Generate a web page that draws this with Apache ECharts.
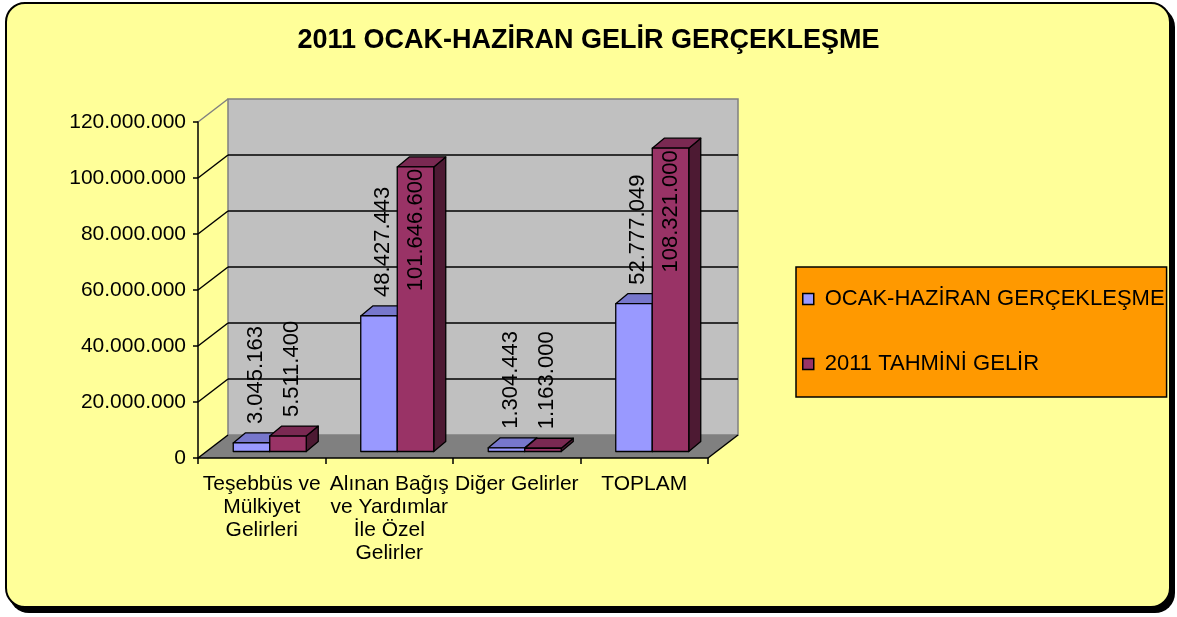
<!DOCTYPE html>
<html>
<head>
<meta charset="utf-8">
<script src="https://cdn.jsdelivr.net/npm/echarts@6/dist/echarts.min.js"></script>
<style>
  html, body { margin: 0; padding: 0; background: #fff; }
  .frame {
    position: absolute; left: 5px; top: 2px; width: 1162px; height: 602px;
    border: 2px solid #000; border-radius: 20px; background: #ffff99;
    box-shadow: 4px 5px 0 #000;
  }
  .gelir-chart { position: absolute; left: 0; top: 0; width: 1177px; height: 617px; }
</style>
</head>
<body>
<div class="frame"></div>
<div class="gelir-chart"></div>
<script>
// * 3D görünümlü sütun grafiği (Excel tarzı)
const chart = echarts.init(document.querySelector('.gelir-chart'))

// ? veriler
const categories = ['Teşebbüs ve\nMülkiyet\nGelirleri', 'Alınan Bağış\nve Yardımlar\nİle Özel\nGelirler', 'Diğer Gelirler', 'TOPLAM']
const seriesNames = ['OCAK-HAZİRAN GERÇEKLEŞME', '2011 TAHMİNİ GELİR']
const gerceklesme = [3045163, 48427443, 1304443, 52777049]
const tahmini = [5511400, 101646600, 1163000, 108321000]
const yTicks = [0, 20000000, 40000000, 60000000, 80000000, 100000000, 120000000]

// derinlik ayarları (piksel)
const WALL_DX = 30, WALL_DY = -23
const BAR_SHIFT_X = 8, BAR_SHIFT_Y = -6.5
const BAR_DX = 12, BAR_DY = -10
const BAR_W = 36.5

const fmt = n => String(n).replace(/\B(?=(\d{3})+(?!\d))/g, '.')

const measureCtx = document.createElement('canvas').getContext('2d')
measureCtx.font = '22px "Liberation Sans", Arial'

// arka duvar, taban ve ızgara çizgileri
function renderWalls(params, api) {
  const cs = params.coordSys
  const left = cs.x, right = cs.x + cs.width
  const y0 = api.coord([0, 0])[1]
  const yMax = api.coord([0, yTicks[yTicks.length - 1]])[1]
  const children = []
  children.push({
    type: 'polygon',
    shape: { points: [[left, y0], [right, y0], [right + WALL_DX, y0 + WALL_DY], [left + WALL_DX, y0 + WALL_DY]] },
    style: { fill: '#808080' }
  })
  children.push({
    type: 'rect',
    shape: { x: left + WALL_DX, y: yMax + WALL_DY, width: cs.width, height: y0 - yMax },
    style: { fill: '#c0c0c0', stroke: '#808080', lineWidth: 1.5 }
  })
  yTicks.forEach((v, k) => {
    const y = api.coord([0, v])[1]
    const isTop = k === yTicks.length - 1
    if (v > 0 && !isTop) {
      children.push({
        type: 'line',
        shape: { x1: left + WALL_DX, y1: y + WALL_DY, x2: right + WALL_DX, y2: y + WALL_DY },
        style: { stroke: '#000', lineWidth: 1.5 }
      })
    }
    children.push({
      type: 'line',
      shape: { x1: left, y1: y, x2: left + WALL_DX, y2: y + WALL_DY },
      style: { stroke: isTop ? '#808080' : '#000', lineWidth: 1.5 }
    })
  })
  // sağ taban kenarı
  children.push({
    type: 'line',
    shape: { x1: right, y1: y0, x2: right + WALL_DX, y2: y0 + WALL_DY },
    style: { stroke: '#000', lineWidth: 1.5 }
  })
  return { type: 'group', children }
}

function barRenderer(seriesIdx, front, top, side) {
  return function (params, api) {
    const i = api.value(0), v = api.value(1)
    const pt = api.coord([i, v])
    const cx = pt[0]
    const yTop = pt[1] + BAR_SHIFT_Y
    const yBase = api.coord([i, 0])[1] + BAR_SHIFT_Y
    const x0 = cx + BAR_SHIFT_X - BAR_W + seriesIdx * BAR_W
    const x1 = x0 + BAR_W
    const stroke = { stroke: '#000', lineWidth: 1.3, lineJoin: 'round' }
    const children = [
      {
        type: 'polygon',
        shape: { points: [[x1, yTop], [x1 + BAR_DX, yTop + BAR_DY], [x1 + BAR_DX, yBase + BAR_DY], [x1, yBase]] },
        style: Object.assign({ fill: side }, stroke)
      },
      {
        type: 'polygon',
        shape: { points: [[x0, yTop], [x1, yTop], [x1 + BAR_DX, yTop + BAR_DY], [x0 + BAR_DX, yTop + BAR_DY]] },
        style: Object.assign({ fill: top }, stroke)
      },
      {
        type: 'rect',
        shape: { x: x0, y: yTop, width: BAR_W, height: yBase - yTop },
        style: Object.assign({ fill: front }, stroke)
      }
    ]
    // değer etiketi (dikey)
    const text = fmt(v)
    const w = measureCtx.measureText(text).width
    const wallTop = params.coordSys.y + WALL_DY
    let ax = x0 + BAR_W / 2 + 4
    let ay = yTop + BAR_DY / 2 - 14
    let align = 'left'
    if (ay - w < wallTop) {
      ax = x0 + BAR_W / 2
      ay = yTop + 2
      align = 'right'
    }
    children.push({
      type: 'text',
      x: ax, y: ay, rotation: Math.PI / 2,
      style: { text, fill: '#000', font: '22px "Liberation Sans", Arial', align, verticalAlign: 'middle' },
      z2: 10
    })
    return { type: 'group', children }
  }
}

const option = {
  animation: false,
  title: {
    text: '2011 OCAK-HAZİRAN GELİR GERÇEKLEŞME',
    left: 'center',
    top: 27,
    padding: 0,
    textStyle: { fontFamily: 'Liberation Sans, Arial', fontSize: 27, fontWeight: 'bold', color: '#000' }
  },
  legend: {
    data: seriesNames,
    orient: 'vertical',
    left: 796,
    top: 267,
    padding: [21, 2, 22, 6],
    itemGap: 43,
    itemWidth: 11,
    itemHeight: 11,
    icon: 'rect',
    backgroundColor: '#ff9900',
    borderColor: '#000',
    borderWidth: 1.5,
    borderRadius: 0,
    itemStyle: { borderColor: '#000', borderWidth: 1.5 },
    textStyle: { fontFamily: 'Liberation Sans, Arial', fontSize: 22, color: '#000', lineHeight: 22, padding: [0, 0, 0, 6] }
  },
  grid: { left: 198, top: 122, width: 510, height: 336, containLabel: false },
  xAxis: {
    type: 'category',
    data: categories,
    z: 5,
    axisLine: { lineStyle: { color: '#000', width: 1.5 } },
    axisTick: { show: true, length: 6, lineStyle: { color: '#000', width: 1.5 } },
    axisLabel: { interval: 0, margin: 15, color: '#000', fontFamily: 'Liberation Sans, Arial', fontSize: 21, lineHeight: 23 },
    splitLine: { show: false }
  },
  yAxis: {
    type: 'value',
    min: yTicks[0],
    max: yTicks[yTicks.length - 1],
    interval: yTicks[1] - yTicks[0],
    z: 5,
    axisLine: { show: true, lineStyle: { color: '#000', width: 1.5 } },
    axisTick: { show: true, length: 5, lineStyle: { color: '#000', width: 1.5 } },
    axisLabel: { margin: 12, color: '#000', fontFamily: 'Liberation Sans, Arial', fontSize: 21, formatter: fmt },
    splitLine: { show: false }
  },
  series: [
    {
      type: 'custom',
      name: 'duvar',
      silent: true,
      clip: false,
      z: 1,
      renderItem: renderWalls,
      data: [[0, 0]]
    },
    {
      type: 'custom',
      name: seriesNames[0],
      clip: false,
      z: 2,
      itemStyle: { color: '#9999ff' },
      renderItem: barRenderer(0, '#9999ff', '#7777cc', '#55558f'),
      data: gerceklesme.map((v, i) => [i, v])
    },
    {
      type: 'custom',
      name: seriesNames[1],
      clip: false,
      z: 3,
      itemStyle: { color: '#993366' },
      renderItem: barRenderer(1, '#993366', '#7a2952', '#4d1a33'),
      data: tahmini.map((v, i) => [i, v])
    }
  ]
}

chart.setOption(option)
</script>
</body>
</html>
